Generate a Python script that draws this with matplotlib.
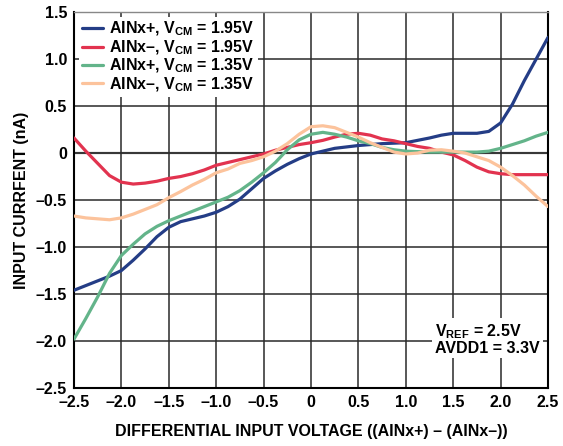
import matplotlib
matplotlib.use("Agg")
import matplotlib.pyplot as plt

# differential input voltage (V), read every 0.125 V
volts = [-2.5, -2.375, -2.25, -2.125, -2.0, -1.875, -1.75, -1.625, -1.5, -1.375,
         -1.25, -1.125, -1.0, -0.875, -0.75, -0.625, -0.5, -0.375, -0.25, -0.125,
         0.0, 0.125, 0.25, 0.375, 0.5, 0.625, 0.75, 0.875, 1.0, 1.125,
         1.25, 1.375, 1.5, 1.625, 1.75, 1.875, 2.0, 2.125, 2.25, 2.375, 2.5]

# input current (nA)
pos_195 = [-1.46, -1.41, -1.36, -1.31, -1.25, -1.14, -1.02, -0.89, -0.79, -0.73,
           -0.70, -0.67, -0.63, -0.57, -0.49, -0.38, -0.27, -0.19, -0.12, -0.06,
           -0.01, 0.02, 0.05, 0.065, 0.08, 0.09, 0.10, 0.105, 0.11, 0.135,
           0.16, 0.19, 0.21, 0.21, 0.21, 0.23, 0.32, 0.52, 0.77, 1.00, 1.23]
neg_195 = [0.16, 0.02, -0.11, -0.24, -0.31, -0.33, -0.32, -0.30, -0.27, -0.25,
           -0.22, -0.18, -0.13, -0.10, -0.07, -0.04, -0.01, 0.03, 0.06, 0.09,
           0.11, 0.135, 0.17, 0.20, 0.21, 0.19, 0.15, 0.13, 0.10, 0.07,
           0.05, 0.01, -0.02, -0.08, -0.15, -0.20, -0.22, -0.23, -0.23, -0.23, -0.23]
pos_135 = [-1.98, -1.76, -1.53, -1.28, -1.09, -0.97, -0.86, -0.78, -0.72, -0.67,
           -0.62, -0.57, -0.52, -0.47, -0.40, -0.31, -0.21, -0.10, 0.035, 0.14,
           0.20, 0.22, 0.20, 0.17, 0.13, 0.10, 0.06, 0.035, 0.02, 0.015,
           0.01, 0.01, 0.01, 0.01, 0.01, 0.02, 0.05, 0.09, 0.13, 0.18, 0.22]
neg_135 = [-0.67, -0.69, -0.70, -0.71, -0.69, -0.65, -0.60, -0.55, -0.475, -0.41,
           -0.34, -0.28, -0.21, -0.17, -0.11, -0.08, -0.04, 0.02, 0.10, 0.20,
           0.28, 0.29, 0.27, 0.22, 0.17, 0.11, 0.06, 0.01, -0.01, 0.0,
           0.03, 0.035, 0.02, 0.0, -0.04, -0.08, -0.15, -0.24, -0.34, -0.46, -0.57]

series_labels = [
    r"AINx+, V$_{\mathbf{CM}}$ = 1.95V",
    r"AINx–, V$_{\mathbf{CM}}$ = 1.95V",
    r"AINx+, V$_{\mathbf{CM}}$ = 1.35V",
    r"AINx–, V$_{\mathbf{CM}}$ = 1.35V",
]
colors = ["#243d86", "#e2334f", "#63b48a", "#fcc39c"]

x_ticks = [-2.5, -2.0, -1.5, -1.0, -0.5, 0.0, 0.5, 1.0, 1.5, 2.0, 2.5]
x_tick_labels = ["–2.5", "–2.0", "–1.5", "–1.0", "–0.5", "0", "0.5", "1.0", "1.5", "2.0", "2.5"]
y_ticks = [-2.5, -2.0, -1.5, -1.0, -0.5, 0.0, 0.5, 1.0, 1.5]
y_tick_labels = ["–2.5", "–2.0", "–1.5", "–1.0", "–0.5", "0", "0.5", "1.0", "1.5"]

FS = 11.5

plt.rcParams["font.family"] = ["Liberation Sans", "DejaVu Sans"]
plt.rcParams["font.weight"] = "bold"
plt.rcParams["mathtext.fontset"] = "custom"
plt.rcParams["mathtext.rm"] = "Liberation Sans:bold"
plt.rcParams["mathtext.bf"] = "Liberation Sans:bold"

fig = plt.figure(figsize=(5.63, 4.46), dpi=100)
ax = fig.add_axes([0.1314, 0.130, 0.8420, 0.843])

series = [pos_195, neg_195, pos_135, neg_135]
for vals, lab, col in zip(series, series_labels, colors):
    ax.plot(volts, vals, color=col, lw=2.3, label=lab, solid_capstyle="round",
            solid_joinstyle="round", zorder=3)

ax.set_xlim(-2.5, 2.5)
ax.set_ylim(-2.5, 1.5)
ax.set_xticks(x_ticks)
ax.set_xticklabels(x_tick_labels)
ax.set_yticks(y_ticks)
ax.set_yticklabels(y_tick_labels)
ax.tick_params(length=0, labelsize=FS, pad=5)
for lbl in ax.get_xticklabels() + ax.get_yticklabels():
    lbl.set_fontweight("bold")

ax.grid(True, color="#2a2a2a", lw=1.1, zorder=1)
ax.axhline(0, color="#666666", lw=1.6, zorder=1.5)
for s in ax.spines.values():
    s.set_linewidth(1.5)
    s.set_color("black")
ax.spines["top"].set_color("#888888")
ax.spines["top"].set_linewidth(1.0)

ax.set_xlabel("DIFFERENTIAL INPUT VOLTAGE ((AINx+) – (AINx–))", fontsize=FS,
              fontweight="bold", labelpad=10)
ax.set_ylabel("INPUT CURRFENT (nA)", fontsize=FS, fontweight="bold", labelpad=5)

leg = ax.legend(loc="upper left", fontsize=FS, frameon=True, handlelength=1.3,
                handletextpad=0.4, labelspacing=0.0, borderpad=0.2,
                borderaxespad=0.3, fancybox=False)
leg.get_frame().set_facecolor("white")
leg.get_frame().set_edgecolor("none")
leg.get_frame().set_alpha(1.0)
leg.set_zorder(5)
for t in leg.get_texts():
    t.set_fontweight("bold")

ax.text(1.31, -1.98, "V$_{\\mathbf{REF}}$ = 2.5V\nAVDD1 = 3.3V", fontsize=FS,
        fontweight="bold", ha="left", va="center", linespacing=0.95, zorder=5,
        bbox=dict(facecolor="white", edgecolor="none", pad=2))

fig.savefig("out.png", dpi=100)
